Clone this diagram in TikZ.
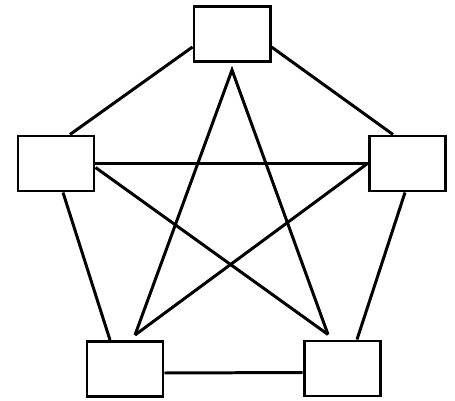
\documentclass[tikz,border=0pt]{standalone}
\begin{document}
\begin{tikzpicture}[line width=1.7pt,
	box/.style={draw, rectangle, minimum width=1.52cm, minimum height=1.1cm, inner sep=0pt}]
	\useasboundingbox (0,0) rectangle (9.1,8);
	\node[box] (top) at (4.64,7.32) {};
	\node[box] (left) at (1.12,4.73) {};
	\node[box] (right) at (8.14,4.73) {};
	\node[box] (botleft) at (2.50,0.62) {};
	\node[box] (botright) at (6.84,0.63) {};
	% outer ring
	\draw ([yshift=-0.26cm]top.west) -- ([xshift=0.28cm]left.north);
	\draw ([yshift=-0.26cm]top.east) -- ([xshift=-0.28cm]right.north);
	\draw ([xshift=0.14cm]left.south) -- ([xshift=-0.3cm]botleft.north);
	\draw ([xshift=-0.04cm]right.south) -- ([xshift=0.3cm]botright.north);
	\draw ([yshift=-0.08cm]botleft.east) -- ([yshift=-0.08cm]botright.west);
	% star
	\draw ([xshift=0.2cm,yshift=0.1cm]botleft.north) -- ([yshift=-0.14cm]top.south) -- ([xshift=-0.28cm,yshift=0.1cm]botright.north);
	\draw (left.east) -- (right.west);
	\draw ([yshift=-0.08cm]left.east) -- ([xshift=-0.28cm,yshift=0.1cm]botright.north);
	\draw (right.west) -- ([xshift=0.2cm,yshift=0.1cm]botleft.north);
\end{tikzpicture}
\end{document}
